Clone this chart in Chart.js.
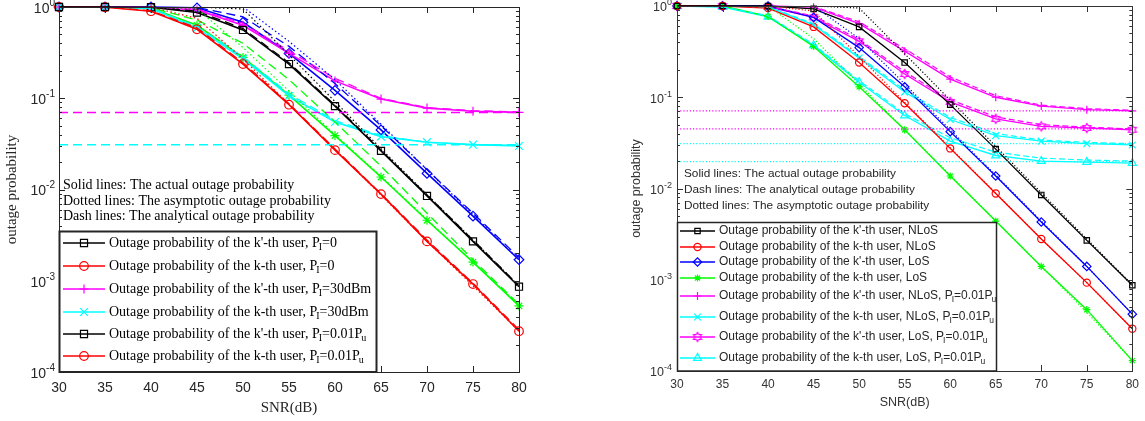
<!DOCTYPE html>
<html>
<head>
<meta charset="utf-8">
<script src="https://cdn.jsdelivr.net/npm/chart.js"></script>
<style>
  html, body { margin: 0; padding: 0; background: #fff; }
  #wrap { position: relative; width: 1145px; height: 421px; overflow: hidden; }
  canvas { position: absolute; top: 0; }
  #left { left: 0; }
  #right { left: 580px; }
</style>
</head>
<body>
<div id="wrap">
  <canvas id="left" width="570" height="421"></canvas>
  <canvas id="right" width="565" height="421"></canvas>
</div>
<script>
"use strict"

// x axis (both panels)
const snr = [30, 35, 40, 45, 50, 55, 60, 65, 70, 75, 80];
const xTicks = [30, 35, 40, 45, 50, 55, 60, 65, 70, 75, 80];
const floorX = [30, 80];
const yDecades = [1, 0.1, 0.01, 0.001, 0.0001];
const yExponents = ['0', '-1', '-2', '-3', '-4'];

// LEFT PANEL - simulated (solid)
const leftKpP0 = [1, 1, 0.995, 0.87, 0.56, 0.237, 0.082, 0.0265, 0.0085, 0.0027, 0.00086];
const leftKP0 = [1, 0.995, 0.9, 0.57, 0.237, 0.085, 0.027, 0.0089, 0.0027, 0.00092, 0.00028];
const leftKp30 = [1, 1, 0.995, 0.93, 0.63, 0.31, 0.155, 0.098, 0.078, 0.072, 0.07];
const leftK30 = [1, 1, 0.96, 0.59, 0.27, 0.106, 0.055, 0.038, 0.033, 0.031, 0.030];
const leftKpPu = [1, 1, 1, 0.98, 0.68, 0.31, 0.122, 0.045, 0.015, 0.0051, 0.0017];
const leftKPu = [1, 1, 0.97, 0.63, 0.28, 0.108, 0.039, 0.0137, 0.0046, 0.0016, 0.00053];
// analytical (dash)
const leftKpP0Ana = [1, 1, 1, 0.9, 0.58, 0.245, 0.084, 0.027, 0.0087, 0.0028, 0.00088];
const leftKP0Ana = [1, 1, 0.91, 0.59, 0.245, 0.087, 0.0278, 0.009, 0.0028, 0.00094, 0.00029];
const leftKp30Ana = [1, 1, 1, 0.95, 0.66, 0.33, 0.165, 0.1, 0.079, 0.073, 0.071];
const leftK30Ana = [1, 1, 0.97, 0.61, 0.285, 0.112, 0.057, 0.039, 0.033, 0.031, 0.0305];
const leftKpPuAna = [1, 1, 1, 0.99, 0.78, 0.37, 0.145, 0.05, 0.0165, 0.0055, 0.0018];
const leftKPuAna = [1, 1, 0.98, 0.72, 0.4, 0.16, 0.055, 0.018, 0.0055, 0.0017, 0.00055];
// asymptotic (dotted)
const leftKpP0Asy = [1, 1, 1, 1, 0.95, 0.3, 0.092, 0.028, 0.0088, 0.0028, 0.00088];
const leftKP0Asy = [1, 1, 1, 0.75, 0.27, 0.086, 0.0275, 0.0087, 0.0027, 0.00088, 0.00028];
const leftKpPuAsy = [1, 1, 1, 1, 1, 0.42, 0.16, 0.052, 0.0165, 0.0053, 0.0017];
const leftKPuAsy = [1, 1, 1, 0.95, 0.36, 0.12, 0.04, 0.014, 0.0047, 0.0016, 0.00054];
const leftFloorKp30 = [0.07, 0.07];
const leftFloorK30 = [0.031, 0.031];

// RIGHT PANEL - simulated (solid)
const rightKpN = [1, 1, 1, 0.93, 0.59, 0.24, 0.083, 0.027, 0.0085, 0.0027, 0.00087];
const rightKN = [1, 1, 0.95, 0.59, 0.24, 0.086, 0.0275, 0.0088, 0.0028, 0.00093, 0.00029];
const rightKpL = [1, 1, 1, 0.75, 0.35, 0.13, 0.042, 0.0137, 0.0043, 0.0014, 0.00042];
const rightKL = [1, 1, 0.77, 0.36, 0.13, 0.044, 0.0137, 0.0044, 0.0014, 0.00047, 0.00013];
const rightKpNPu = [1, 1, 1, 0.97, 0.64, 0.32, 0.158, 0.1, 0.08, 0.073, 0.071];
const rightKNPu = [1, 1, 0.97, 0.62, 0.27, 0.114, 0.057, 0.038, 0.033, 0.031, 0.030];
const rightKpLPu = [1, 1, 0.98, 0.75, 0.41, 0.18, 0.089, 0.058, 0.048, 0.046, 0.044];
const rightKLPu = [1, 0.97, 0.76, 0.37, 0.146, 0.063, 0.033, 0.023, 0.02, 0.0195, 0.019];
// analytical (dash)
const rightKpNPuAna = [1, 1, 1, 0.99, 0.67, 0.34, 0.167, 0.104, 0.082, 0.075, 0.072];
const rightKNPuAna = [1, 1, 0.98, 0.64, 0.28, 0.12, 0.06, 0.04, 0.034, 0.032, 0.031];
const rightKpLPuAna = [1, 1, 0.99, 0.78, 0.43, 0.19, 0.094, 0.061, 0.05, 0.047, 0.045];
const rightKLPuAna = [1, 0.98, 0.78, 0.38, 0.152, 0.066, 0.036, 0.025, 0.0215, 0.0205, 0.0200];
// asymptotic (dotted)
const rightKpNAsy = [1, 1, 1, 1, 0.95, 0.3, 0.093, 0.029, 0.009, 0.0028, 0.00088];
const rightKNAsy = [1, 1, 1, 0.88, 0.28, 0.088, 0.028, 0.0089, 0.0028, 0.00093, 0.00029];
const rightKpLAsy = [1, 1, 1, 1, 0.44, 0.14, 0.044, 0.014, 0.0044, 0.0014, 0.00042];
const rightKLAsy = [1, 1, 1, 0.44, 0.14, 0.044, 0.014, 0.0044, 0.0014, 0.00044, 0.00013];
const rightFloorKpN = [0.071, 0.071];
const rightFloorKpL = [0.045, 0.045];
const rightFloorKN = [0.031, 0.031];
const rightFloorKL = [0.0197, 0.0197];

// texts
const leftNotes = ['Solid lines: The actual outage probability',
  'Dotted lines: The asymptotic outage probability',
  'Dash lines: The analytical outage probability'];
const rightNotes = ['Solid lines: The actual outage probability',
  'Dash lines: The analytical outage probability',
  'Dotted lines: The asymptotic outage probability'];
const leftLegendLabels = [
  "Outage probability of the k'-th user, P_I=0",
  "Outage probability of the k-th user, P_I=0",
  "Outage probability of the k'-th user, P_I=30dBm",
  "Outage probability of the k-th user, P_I=30dBm",
  "Outage probability of the k'-th user, P_I=0.01P_u",
  "Outage probability of the k-th user, P_I=0.01P_u"];
const rightLegendLabels = [
  "Outage probability of the k'-th user, NLoS",
  "Outage probability of the k-th user, NLoS",
  "Outage probability of the k'-th user, LoS",
  "Outage probability of the k-th user, LoS",
  "Outage probability of the k'-th user, NLoS, P_I=0.01P_u",
  "Outage probability of the k-th user, NLoS, P_I=0.01P_u",
  "Outage probability of the k'-th user, LoS, P_I=0.01P_u",
  "Outage probability of the k-th user, LoS, P_I=0.01P_u"];

const K = '#000000', R = '#ff0000', B = '#0000ff', G = '#00ff00', M = '#ff00ff', C = '#00ffff';

// hexagram marker (matlab 'h')
function hexagram(color, r) {
  const c = document.createElement('canvas');
  const s = Math.ceil(r * 2 + 4);
  c.width = s; c.height = s;
  const g = c.getContext('2d');
  const m = s / 2;
  g.strokeStyle = color; g.lineWidth = 1.2;
  g.beginPath();
  for (let i = 0; i < 12; i++) {
    const ang = -Math.PI / 2 + i * Math.PI / 6;
    const rr = i % 2 ? r * 0.58 : r;
    const px = m + rr * Math.cos(ang), py = m + rr * Math.sin(ang);
    if (i) g.lineTo(px, py); else g.moveTo(px, py);
  }
  g.closePath(); g.stroke();
  return c;
}
const hexM = hexagram(M, 4.6);

function pts(xs, ys) {
  return xs.map((x, i) => ({ x: x, y: ys[i] }));
}

// line with markers
function solid(ys, color, style, r, lw) {
  return {
    data: pts(snr, ys), borderColor: color, borderWidth: lw, borderDash: [],
    pointStyle: style, pointRadius: r, pointBorderColor: color,
    pointBackgroundColor: 'rgba(0,0,0,0)', pointBorderWidth: 1.2,
    fill: false, tension: 0, clip: 10
  };
}
function plain(xs, ys, color, dash, lw) {
  return {
    data: pts(xs, ys), borderColor: color, borderWidth: lw, borderDash: dash,
    pointRadius: 0, fill: false, tension: 0
  };
}

// marker for legend, same geometry as chart.js point styles
function marker(ctx, style, x, y, r, color) {
  ctx.save();
  ctx.strokeStyle = color; ctx.lineWidth = 1.2; ctx.setLineDash([]);
  if (style instanceof HTMLCanvasElement) {
    ctx.drawImage(style, x - style.width / 2, y - style.height / 2);
    ctx.restore();
    return;
  }
  const s = r * Math.SQRT1_2;
  ctx.beginPath();
  if (style === 'rect') ctx.rect(x - s, y - s, 2 * s, 2 * s);
  if (style === 'circle') ctx.arc(x, y, r, 0, Math.PI * 2);
  if (style === 'rectRot') { ctx.moveTo(x - r, y); ctx.lineTo(x, y - r); ctx.lineTo(x + r, y); ctx.lineTo(x, y + r); ctx.closePath(); }
  if (style === 'cross' || style === 'star') { ctx.moveTo(x, y - r); ctx.lineTo(x, y + r); ctx.moveTo(x - r, y); ctx.lineTo(x + r, y); }
  if (style === 'crossRot' || style === 'star') { ctx.moveTo(x - s, y - s); ctx.lineTo(x + s, y + s); ctx.moveTo(x + s, y - s); ctx.lineTo(x - s, y + s); }
  if (style === 'triangle') { ctx.moveTo(x, y - r); ctx.lineTo(x + 0.866 * r, y + 0.5 * r); ctx.lineTo(x - 0.866 * r, y + 0.5 * r); ctx.closePath(); }
  ctx.stroke();
  ctx.restore();
}

// text with _x subscripts
function rich(ctx, label, x, y, font, subFont, subDy) {
  const parts = label.split(/_(\w)/);
  let cx = x;
  parts.forEach((p, i) => {
    if (!p) return;
    const sub = i % 2 === 1;
    ctx.font = sub ? subFont : font;
    if (sub) cx -= 1;
    ctx.fillText(p, cx, sub ? y + subDy : y);
    cx += ctx.measureText(p).width;
  });
}

// box, inside ticks, 10^n labels, notes and legend
const frame = {
  id: 'frame',
  afterDraw(chart, args, o) {
    const ctx = chart.ctx;
    const a = chart.chartArea;
    const xs = chart.scales.x, ys = chart.scales.y;
    const ox = chart.canvas.offsetLeft;

    ctx.save();
    ctx.strokeStyle = o.axisColor; ctx.lineWidth = 1; ctx.setLineDash([]);
    ctx.beginPath();
    xTicks.forEach(v => {
      const px = Math.round(xs.getPixelForValue(v)) + 0.5;
      ctx.moveTo(px, a.bottom); ctx.lineTo(px, a.bottom - o.major);
      ctx.moveTo(px, a.top); ctx.lineTo(px, a.top + o.major);
    });
    yDecades.forEach((d, i) => {
      const py = Math.round(ys.getPixelForValue(d)) + 0.5;
      ctx.moveTo(a.left, py); ctx.lineTo(a.left + o.major, py);
      ctx.moveTo(a.right, py); ctx.lineTo(a.right - o.major, py);
      if (i === yDecades.length - 1) return;
      for (let k = 2; k <= 9; k++) {
        const pm = Math.round(ys.getPixelForValue(k * d / 10)) + 0.5;
        ctx.moveTo(a.left, pm); ctx.lineTo(a.left + o.minor, pm);
        ctx.moveTo(a.right, pm); ctx.lineTo(a.right - o.minor, pm);
      }
    });
    ctx.stroke();
    ctx.lineWidth = o.boxWidth;
    ctx.strokeRect(Math.round(a.left) + 0.5, Math.round(a.top) + 0.5,
      Math.round(a.right - a.left), Math.round(a.bottom - a.top));

    // y labels 10^n
    ctx.fillStyle = o.axisColor; ctx.textBaseline = 'middle'; ctx.textAlign = 'right';
    yDecades.forEach((d, i) => {
      const py = ys.getPixelForValue(d);
      const end = o.labelEnd - ox;
      ctx.font = o.supFont;
      ctx.fillText(yExponents[i], end, py - o.supUp);
      const w = ctx.measureText(yExponents[i]).width;
      ctx.font = o.tickFont;
      ctx.fillText('10', end - w, py + 2);
    });
    ctx.restore();

    ctx.save();
    ctx.translate(-ox, 0);
    // notes
    ctx.fillStyle = o.textColor; ctx.textBaseline = 'middle'; ctx.textAlign = 'left';
    ctx.font = o.noteFont;
    o.notes.forEach((t, i) => ctx.fillText(t, o.noteX, o.noteRows[i]));
    // legend
    const L = o.legend;
    ctx.fillStyle = '#ffffff';
    ctx.fillRect(L.x, L.y, L.w, L.h);
    ctx.strokeStyle = L.border; ctx.lineWidth = L.borderWidth;
    ctx.strokeRect(L.x, L.y, L.w, L.h);
    L.labels.forEach((lab, i) => {
      const y = L.rows[i];
      const mk = L.marks[i];
      ctx.strokeStyle = mk.c; ctx.lineWidth = L.lineWidth;
      ctx.beginPath(); ctx.moveTo(L.x0, y); ctx.lineTo(L.x1, y); ctx.stroke();
      marker(ctx, mk.s, (L.x0 + L.x1) / 2, y, mk.r, mk.c);
      ctx.fillStyle = o.textColor;
      rich(ctx, lab, L.tx, y, L.font, L.subFont, L.subDy);
    });
    ctx.restore();
  }
};

function makeChart(id, datasets, f, pad, yWidth, xHeight) {
  return new Chart(document.getElementById(id), {
    type: 'line',
    data: { datasets: datasets },
    plugins: [frame],
    options: {
      responsive: false, animation: false, events: [],
      layout: { padding: pad },
      plugins: { legend: { display: false }, tooltip: { enabled: false }, frame: f },
      scales: {
        x: {
          type: 'linear', min: 30, max: 80,
          afterBuildTicks: s => { s.ticks = xTicks.map(v => ({ value: v })); },
          afterFit: s => { s.height = xHeight; },
          grid: { display: false, drawTicks: false }, border: { display: false },
          ticks: { color: f.axisColor, font: f.xTickFont, padding: f.xTickPad, maxRotation: 0, autoSkip: false },
          title: { display: true, text: 'SNR(dB)', color: f.axisColor, font: f.titleFont, padding: { top: 0, bottom: f.xTitlePad } }
        },
        y: {
          type: 'logarithmic', min: 0.0001, max: 1,
          afterFit: s => { s.width = yWidth; },
          grid: { display: false, drawTicks: false }, border: { display: false },
          ticks: { display: false },
          title: { display: true, text: 'outage probability', color: f.axisColor, font: f.titleFont, padding: { top: f.yTitlePad, bottom: 0 } }
        }
      }
    }
  });
}

// LEFT PANEL
const lw = 1.6, dot = [1.5, 2.5], dash = [9, 5];
const leftSets = [
  plain(snr, leftKpP0Asy, K, dot, 1.2),
  plain(snr, leftKP0Asy, R, dot, 1.2),
  plain(snr, leftKpPuAsy, B, dot, 1.2),
  plain(snr, leftKPuAsy, G, dot, 1.2),
  plain(floorX, leftFloorKp30, M, dash, 1.5),
  plain(floorX, leftFloorK30, C, dash, 1.5),
  plain(snr, leftKpP0Ana, K, dash, 1.3),
  plain(snr, leftKP0Ana, R, dash, 1.3),
  plain(snr, leftKp30Ana, M, dash, 1.3),
  plain(snr, leftK30Ana, C, dash, 1.3),
  plain(snr, leftKpPuAna, B, dash, 1.3),
  plain(snr, leftKPuAna, G, dash, 1.3),
  solid(leftKpP0, K, 'rect', 5, lw),
  solid(leftKP0, R, 'circle', 4.3, lw),
  solid(leftKp30, M, 'cross', 4.5, lw),
  solid(leftK30, C, 'crossRot', 5.5, lw),
  solid(leftKpPu, B, 'rectRot', 4.8, lw),
  solid(leftKPu, G, 'star', 4.5, lw)
];
makeChart('left', leftSets, {
  axisColor: '#262626', textColor: '#000000',
  tickFont: '14px "Liberation Sans"', supFont: '10px "Liberation Sans"', supUp: 4, labelEnd: 55,
  xTickFont: { family: 'Liberation Sans', size: 14 }, xTickPad: 8,
  titleFont: { family: 'Liberation Serif', size: 15 }, xTitlePad: 4, yTitlePad: 3,
  major: 6, minor: 3, boxWidth: 1,
  noteFont: '14px "Liberation Serif"', noteX: 63, noteRows: [185, 201, 216], notes: leftNotes,
  legend: {
    x: 59.5, y: 231.5, w: 317, h: 140.5, border: '#262626', borderWidth: 2,
    rows: [243, 266, 289, 312, 334, 356], x0: 63, x1: 105, tx: 109, lineWidth: 1.5,
    font: '14px "Liberation Serif"', subFont: '10px "Liberation Serif"', subDy: 4,
    labels: leftLegendLabels,
    marks: [{ c: K, s: 'rect', r: 5 }, { c: R, s: 'circle', r: 4.3 }, { c: M, s: 'cross', r: 4.5 },
      { c: C, s: 'crossRot', r: 5.5 }, { c: K, s: 'rect', r: 5 }, { c: R, s: 'circle', r: 4.3 }]
  }
}, { left: 0, top: 7, right: 51, bottom: 0 }, 59, 49);

// RIGHT PANEL
const rw = 1.3, rdot = [1.2, 2], rdash = [6, 3];
const rightSets = [
  plain(floorX, rightFloorKpN, M, rdot, 1.2),
  plain(floorX, rightFloorKpL, M, rdot, 1.2),
  plain(floorX, rightFloorKN, C, rdot, 1.2),
  plain(floorX, rightFloorKL, C, rdot, 1.2),
  plain(snr, rightKpNAsy, K, rdot, 1.2),
  plain(snr, rightKNAsy, R, rdot, 1.2),
  plain(snr, rightKpLAsy, B, rdot, 1.2),
  plain(snr, rightKLAsy, G, rdot, 1.2),
  plain(snr, rightKpNPuAna, M, rdash, 1.2),
  plain(snr, rightKNPuAna, C, rdash, 1.2),
  plain(snr, rightKpLPuAna, M, rdash, 1.2),
  plain(snr, rightKLPuAna, C, rdash, 1.2),
  solid(rightKpN, K, 'rect', 3.8, rw),
  solid(rightKN, R, 'circle', 3.6, rw),
  solid(rightKpL, B, 'rectRot', 4.2, rw),
  solid(rightKL, G, 'star', 3.6, rw),
  solid(rightKpNPu, M, 'cross', 4, rw),
  solid(rightKNPu, C, 'crossRot', 4.8, rw),
  solid(rightKpLPu, M, hexM, 4.6, rw),
  solid(rightKLPu, C, 'triangle', 4.6, rw)
];
makeChart('right', rightSets, {
  axisColor: '#333333', textColor: '#262626',
  tickFont: '12.5px "Liberation Sans"', supFont: '9px "Liberation Sans"', supUp: 3, labelEnd: 672,
  xTickFont: { family: 'Liberation Sans', size: 12 }, xTickPad: 6,
  titleFont: { family: 'Liberation Sans', size: 12.5 }, xTitlePad: 11, yTitlePad: 1.5,
  major: 6, minor: 3, boxWidth: 1,
  noteFont: '11.8px "Liberation Sans"', noteX: 684, noteRows: [174, 190, 206], notes: rightNotes,
  legend: {
    x: 677.5, y: 222.5, w: 319, h: 148.5, border: '#262626', borderWidth: 1.5,
    rows: [231, 247, 262, 278, 296, 317, 337, 358], x0: 680, x1: 715, tx: 719, lineWidth: 1.3,
    font: '12px "Liberation Sans"', subFont: '8.5px "Liberation Sans"', subDy: 3.5,
    labels: rightLegendLabels,
    marks: [{ c: K, s: 'rect', r: 3.8 }, { c: R, s: 'circle', r: 3.6 }, { c: B, s: 'rectRot', r: 4.2 },
      { c: G, s: 'star', r: 3.6 }, { c: M, s: 'cross', r: 4 }, { c: C, s: 'crossRot', r: 4.8 },
      { c: M, s: hexM, r: 4.6 }, { c: C, s: 'triangle', r: 4.6 }]
  }
}, { left: 48, top: 2, right: 7, bottom: 0 }, 49, 50);
</script>
</body>
</html>
